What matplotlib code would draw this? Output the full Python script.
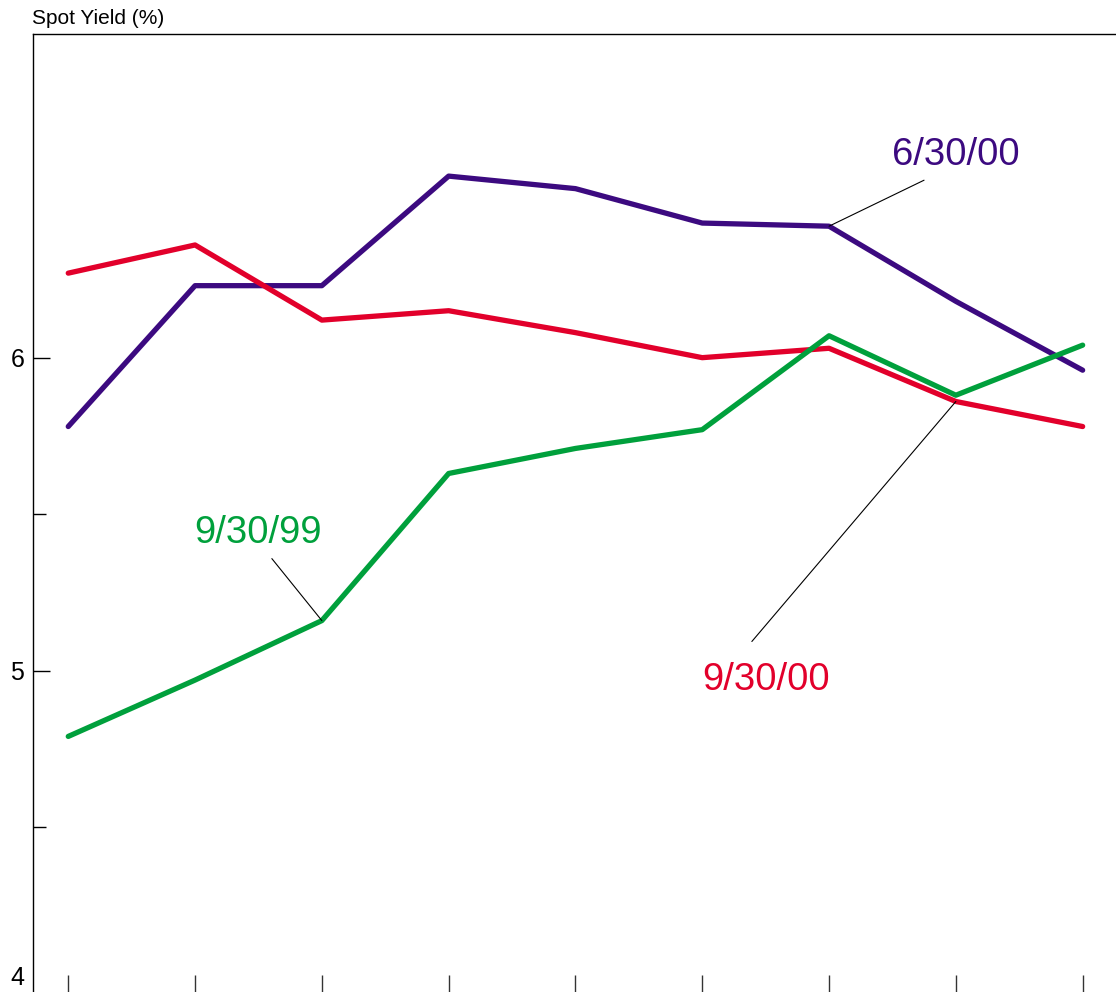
import matplotlib
matplotlib.use("Agg")
import matplotlib.pyplot as plt
from matplotlib.transforms import ScaledTranslation

plt.rcParams['font.family'] = ['Liberation Sans', 'DejaVu Sans']

# Data (9 maturity points, unlabeled x-axis)
x_idx = list(range(9))
series_names = ["6/30/00", "9/30/00", "9/30/99"]
yield_6_30_00 = [5.78, 6.23, 6.23, 6.58, 6.54, 6.43, 6.42, 6.18, 5.96]
yield_9_30_00 = [6.27, 6.36, 6.12, 6.15, 6.08, 6.00, 6.03, 5.86, 5.78]
yield_9_30_99 = [4.79, 4.97, 5.16, 5.63, 5.71, 5.77, 6.07, 5.88, 6.04]
y_ticks = [4, 5, 6]
y_minor = [4.5, 5.5]

colors = {"6/30/00": "#3C0A80", "9/30/00": "#E2002B", "9/30/99": "#00A03C"}

fig = plt.figure(figsize=(11.16, 9.92), dpi=100)
ax = fig.add_axes([32.5 / 1116, 0.0, 1 - 32.5 / 1116, 1 - 34 / 992])

for name, vals in zip(series_names, [yield_6_30_00, yield_9_30_00, yield_9_30_99]):
    ax.plot(x_idx, vals, color=colors[name], lw=3.8, solid_capstyle='round')

ax.set_xlim(-0.282, 8.263)
ax.set_ylim(3.9735, 7.034)

for s in ['right', 'bottom']:
    ax.spines[s].set_visible(False)
for s in ['left', 'top']:
    ax.spines[s].set_linewidth(1.0)

ax.set_xticks(x_idx)
ax.set_xticklabels([])
ax.tick_params(axis='x', direction='in', length=12.2, width=1.0, color='#333333')
ax.set_yticks(y_ticks)
ax.set_yticks(y_minor, minor=True)
ax.set_yticklabels([str(t) for t in y_ticks])
ax.tick_params(axis='y', which='major', direction='in', length=12.2, width=1.0, labelsize=18, pad=6)
ax.tick_params(axis='y', which='minor', direction='in', length=9, width=1.0)
ax.yaxis.get_major_ticks()[0].tick1line.set_visible(False)
for lab in ax.get_yticklabels():
    if lab.get_text() == "4":
        lab.set_transform(lab.get_transform() + ScaledTranslation(0, 6 / 72, fig.dpi_scale_trans))

fig.text(32 / 1116, 1 - 18 / 992, "Spot Yield (%)", ha='left', va='center', fontsize=15)

# Series labels with leader lines
labels = [
    ("6/30/00", 6, yield_6_30_00[6], (95, 46), 7.0, 6.647),
    ("9/30/00", 7, yield_9_30_00[7], (-204, -240), 5.503, 4.969),
    ("9/30/99", 2, yield_9_30_99[2], (-50, 62), 1.496, 5.439),
]
for name, xi, yv, off, tx, ty in labels:
    ax.annotate("", xy=(xi, yv), xytext=off, textcoords='offset pixels',
                arrowprops=dict(arrowstyle='-', color='black', lw=0.8,
                                shrinkA=0, shrinkB=0))
    ax.text(tx, ty, name, color=colors[name], fontsize=27.5, ha='center', va='center')

fig.savefig("out.png", dpi=100)
